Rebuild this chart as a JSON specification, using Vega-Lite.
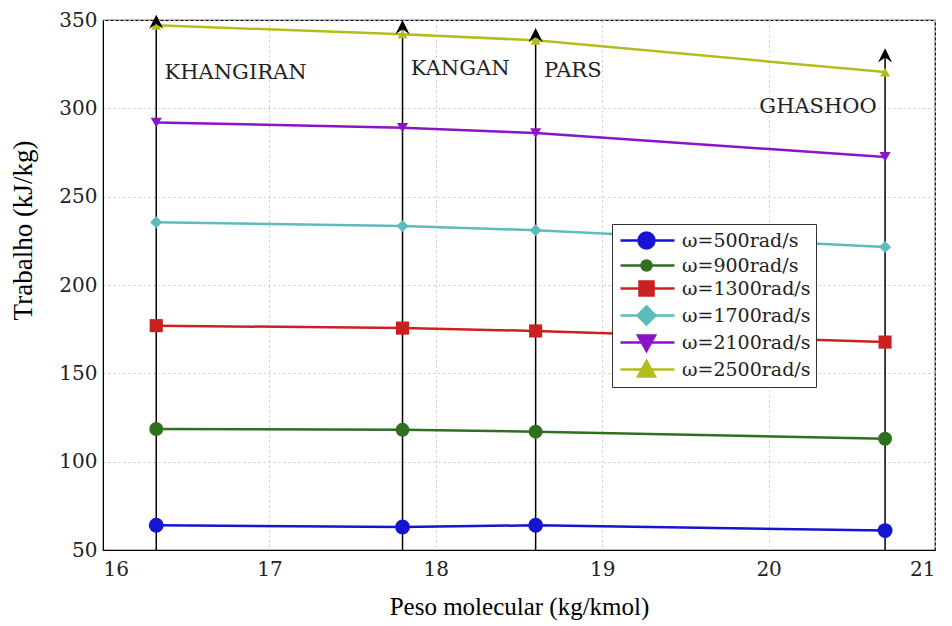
{
  "$schema": "https://vega.github.io/schema/vega-lite/v6.json",
  "width": 832,
  "height": 530,
  "autosize": "none",
  "padding": {"left": 103, "top": 20, "right": 17, "bottom": 76},
  "background": "white",
  "config": {
    "font": "DejaVu Serif",
    "view": {"stroke": "black", "strokeWidth": 1.2},
    "axis": {
      "labelFont": "DejaVu Serif",
      "titleFont": "Liberation Serif",
      "labelFontSize": 20,
      "titleFontSize": 23,
      "titleFontWeight": "normal",
      "labelColor": "#222222",
      "titleColor": "black",
      "domainColor": "black",
      "tickColor": "black",
      "tickSize": 0,
      "gridColor": "#c8c8c8",
      "gridDash": [2, 3],
      "gridWidth": 1
    },
    "legend": {
      "labelFont": "DejaVu Serif",
      "labelFontSize": 19,
      "labelColor": "#222222"
    }
  },
  "resolve": {"legend": {"color": "independent"}},
  "datasets": {
    "series": [
      {"mw": 16.32, "w": 64, "serie": "ω=500rad/s"},
      {"mw": 17.8, "w": 63, "serie": "ω=500rad/s"},
      {"mw": 18.6, "w": 64, "serie": "ω=500rad/s"},
      {"mw": 20.7, "w": 61, "serie": "ω=500rad/s"},
      {"mw": 16.32, "w": 118.5, "serie": "ω=900rad/s"},
      {"mw": 17.8, "w": 118, "serie": "ω=900rad/s"},
      {"mw": 18.6, "w": 117, "serie": "ω=900rad/s"},
      {"mw": 20.7, "w": 113, "serie": "ω=900rad/s"},
      {"mw": 16.32, "w": 177, "serie": "ω=1300rad/s"},
      {"mw": 17.8, "w": 175.6, "serie": "ω=1300rad/s"},
      {"mw": 18.6, "w": 174, "serie": "ω=1300rad/s"},
      {"mw": 20.7, "w": 167.7, "serie": "ω=1300rad/s"},
      {"mw": 16.32, "w": 235.5, "serie": "ω=1700rad/s"},
      {"mw": 17.8, "w": 233.4, "serie": "ω=1700rad/s"},
      {"mw": 18.6, "w": 231, "serie": "ω=1700rad/s"},
      {"mw": 20.7, "w": 221.5, "serie": "ω=1700rad/s"},
      {"mw": 16.32, "w": 292, "serie": "ω=2100rad/s"},
      {"mw": 17.8, "w": 289, "serie": "ω=2100rad/s"},
      {"mw": 18.6, "w": 286, "serie": "ω=2100rad/s"},
      {"mw": 20.7, "w": 272.5, "serie": "ω=2100rad/s"},
      {"mw": 16.32, "w": 347, "serie": "ω=2500rad/s"},
      {"mw": 17.8, "w": 342, "serie": "ω=2500rad/s"},
      {"mw": 18.6, "w": 338.5, "serie": "ω=2500rad/s"},
      {"mw": 20.7, "w": 320.5, "serie": "ω=2500rad/s"}
    ],
    "arrows": [
      {"mw": 16.32, "base": 50, "top": 349},
      {"mw": 17.8, "base": 50, "top": 346},
      {"mw": 18.6, "base": 50, "top": 341.5},
      {"mw": 20.7, "base": 50, "top": 330}
    ],
    "labelsLeft": [
      {"mw": 16.37, "y": 320, "text": "KHANGIRAN"},
      {"mw": 17.85, "y": 322, "text": "KANGAN"},
      {"mw": 18.65, "y": 321, "text": "PARS"}
    ],
    "labelsRight": [
      {"mw": 20.65, "y": 301, "text": "GHASHOO"}
    ]
  },
  "layer": [
    {
      "data": {"name": "arrows"},
      "mark": {"type": "rule", "color": "black", "strokeWidth": 1.5},
      "encoding": {
        "x": {"field": "mw", "type": "quantitative", "scale": {"domain": [16, 21], "nice": false}, "axis": {"values": [16, 17, 18, 19, 20, 21], "format": "d", "title": "Peso molecular (kg/kmol)", "titleFontSize": 25, "titlePadding": 15, "labelPadding": 9, "grid": true}},
        "y": {"field": "base", "type": "quantitative", "scale": {"domain": [50, 350], "nice": false}, "axis": {"values": [50, 100, 150, 200, 250, 300, 350], "format": "d", "title": "Trabalho (kJ/kg)", "titleFontSize": 27, "titleX": -80, "titleY": 210, "titleBaseline": "middle", "titleAlign": "center", "titleAngle": 270, "labelPadding": 6, "grid": true}},
        "y2": {"field": "top"}
      }
    },
    {
      "data": {"name": "series"},
      "mark": {"type": "line", "strokeWidth": 2.5},
      "encoding": {
        "x": {"field": "mw", "type": "quantitative"},
        "y": {"field": "w", "type": "quantitative"},
        "color": {
          "field": "serie", "type": "nominal",
          "scale": {
            "domain": ["ω=500rad/s", "ω=900rad/s", "ω=1300rad/s", "ω=1700rad/s", "ω=2100rad/s", "ω=2500rad/s"],
            "range": ["#1414d2", "#2f7020", "#cc2020", "#5cbcbc", "#8a14c8", "#b4bc1c"]
          },
          "legend": {
            "title": null,
            "orient": "none",
            "legendX": 509,
            "legendY": 204,
            "strokeColor": "#333333",
            "fillColor": "white",
            "padding": 5,
            "symbolSize": 400,
            "symbolStrokeWidth": 2.5,
            "rowPadding": 0,
            "labelOffset": 42,
            "labelLimit": 300,
            "encode": {
              "symbols": {
                "update": {
                  "shape": {"signal": "datum.value === 'ω=500rad/s' ? 'M-0.8,0L4.6,0M1,0A0.8,0.8 0 1,0 2.6,0A0.8,0.8 0 1,0 1,0Z' : datum.value === 'ω=900rad/s' ? 'M-0.8,0L4.6,0M1.3,0A0.5,0.5 0 1,0 2.3,0A0.5,0.5 0 1,0 1.3,0Z' : datum.value === 'ω=1300rad/s' ? 'M-0.8,0L4.6,0M1.1,-0.7L2.5,-0.7L2.5,0.7L1.1,0.7Z' : datum.value === 'ω=1700rad/s' ? 'M-0.8,0L4.6,0M1.8,-0.9L2.7,0L1.8,0.9L0.9,0Z' : datum.value === 'ω=2100rad/s' ? 'M-0.8,0L4.6,0M0.95,-0.7L2.65,-0.7L1.8,0.85Z' : 'M-0.8,0L4.6,0M0.95,0.7L2.65,0.7L1.8,-0.85Z'"},
                  "fill": {"scale": "color", "field": "value"},
                  "stroke": {"scale": "color", "field": "value"},
                  "fillOpacity": {"value": 1},
                  "strokeWidth": {"value": 2.5}
                }
              }
            }
          }
        }
      }
    },
    {
      "data": {"name": "series"},
      "mark": {"type": "point", "filled": true, "opacity": 1},
      "encoding": {
        "x": {"field": "mw", "type": "quantitative"},
        "y": {"field": "w", "type": "quantitative"},
        "color": {"field": "serie", "type": "nominal", "legend": null},
        "shape": {
          "field": "serie", "type": "nominal", "legend": null,
          "scale": {
            "domain": ["ω=500rad/s", "ω=900rad/s", "ω=1300rad/s", "ω=1700rad/s", "ω=2100rad/s", "ω=2500rad/s"],
            "range": ["circle", "circle", "square", "diamond", "triangle-down", "triangle-up"]
          }
        },
        "size": {
          "field": "serie", "type": "nominal", "legend": null,
          "scale": {
            "domain": ["ω=500rad/s", "ω=900rad/s", "ω=1300rad/s", "ω=1700rad/s", "ω=2100rad/s", "ω=2500rad/s"],
            "range": [220, 100, 150, 260, 220, 220]
          }
        }
      }
    },
    {
      "data": {"name": "arrows"},
      "mark": {"type": "point", "filled": true, "color": "black", "opacity": 1, "shape": "M-1,1L0,-1L1,1L0,0.3Z", "size": 200},
      "encoding": {
        "x": {"field": "mw", "type": "quantitative"},
        "y": {"field": "top", "type": "quantitative"}
      }
    },
    {
      "data": {"name": "labelsLeft"},
      "mark": {"type": "text", "font": "DejaVu Serif", "fontSize": 21, "color": "#222222", "baseline": "middle", "align": "left"},
      "encoding": {
        "x": {"field": "mw", "type": "quantitative"},
        "y": {"field": "y", "type": "quantitative"},
        "text": {"field": "text"}
      }
    },
    {
      "data": {"name": "labelsRight"},
      "mark": {"type": "text", "font": "DejaVu Serif", "fontSize": 21, "color": "#222222", "baseline": "middle", "align": "right"},
      "encoding": {
        "x": {"field": "mw", "type": "quantitative"},
        "y": {"field": "y", "type": "quantitative"},
        "text": {"field": "text"}
      }
    }
  ]
}
